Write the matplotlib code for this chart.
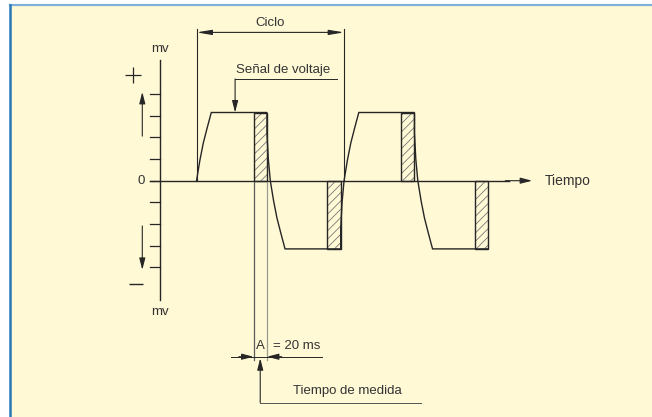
import matplotlib
matplotlib.use("Agg")
import matplotlib.pyplot as plt
from matplotlib.patches import Rectangle
from matplotlib.lines import Line2D

# signal in ms / mv-tick units
PERIOD = 220                 # ms
HALF = PERIOD / 2
LEVEL = 3.15                 # plateau height, in tick units
HATCH_W = 20                 # measuring window (A = 20 ms)
HATCH_ENDS = [159.5, 269.5, 379.5, 489.5]   # end of each measuring window
# edge shape after each window end (fraction of plateau, for a falling edge)
EDGE_DT = [0, 2, 5, 10, 15, 21, 27]
EDGE_FRAC = [0.70, 0.32, 0.0, -0.30, -0.55, -0.78, -1.0]
MV_TICKS = [-4, -3, -2, -1, 0, 1, 2, 3, 4]

INK = "#262626"
TXT = "#333333"
CREAM = "#fff9d6"

plt.rcParams.update({"font.family": ["Liberation Sans", "DejaVu Sans"], "font.size": 9.5,
                     "hatch.linewidth": 0.6, "hatch.color": "#777777"})

fig = plt.figure(figsize=(6.52, 4.17), dpi=100)
fig.patch.set_facecolor("white")
fig.add_artist(Rectangle((9.5 / 652, 0), 1, 1 - 4.5 / 417, transform=fig.transFigure,
                         facecolor=CREAM, edgecolor="none", zorder=0))
fig.add_artist(Line2D([9.5 / 652, 1], [1 - 4.5 / 417] * 2, transform=fig.transFigure,
                      color="#7fb0d8", lw=1.6))
fig.add_artist(Line2D([9.5 / 652] * 2, [0, 1 - 4.5 / 417], transform=fig.transFigure,
                      color="#2a78b8", lw=1.8))

ax = fig.add_axes([0, 0, 1, 1])
ax.set_facecolor("none")
ax.axis("off")
PX_MS = 0.6705   # px per ms
PX_TK = 21.65    # px per tick
ax.set_xlim(-160 / PX_MS, (652 - 160) / PX_MS)
ax.set_ylim((180.7 - 417) / PX_TK, 180.7 / PX_TK)

# ---- build signal polyline
zero_off = EDGE_DT[EDGE_FRAC.index(0.0)]
first_end = HATCH_ENDS[0] - HALF
xs, ys = [], []
for dt, fr in zip(EDGE_DT[2:], EDGE_FRAC[2:]):
    xs.append(first_end + dt)
    ys.append(-LEVEL * fr)
for i, he in enumerate(HATCH_ENDS):
    sign = 1 if i % 2 == 0 else -1
    xs.append(he)
    ys.append(sign * LEVEL)
    if i < len(HATCH_ENDS) - 1:
        for dt, fr in zip(EDGE_DT, EDGE_FRAC):
            xs.append(he + dt)
            ys.append(sign * LEVEL * fr)
ax.plot(xs, ys, color=INK, lw=1.0, solid_joinstyle="miter", zorder=3)

# measuring windows
for i, he in enumerate(HATCH_ENDS):
    sign = 1 if i % 2 == 0 else -1
    y0 = 0 if sign > 0 else -LEVEL
    ax.add_patch(Rectangle((he - HATCH_W, y0), HATCH_W, LEVEL, facecolor="none",
                           edgecolor="#777777", hatch="////", lw=0, zorder=2))
    ax.add_patch(Rectangle((he - HATCH_W, y0), HATCH_W, LEVEL, facecolor="none",
                           edgecolor=INK, lw=1.0, zorder=3))

# ---- y axis (mv)
y_top, y_bot = 5.57, -5.51
ax.plot([0, 0], [y_bot, y_top], color=INK, lw=1.0)
tick_len = 10 / PX_MS
for t in MV_TICKS:
    ax.plot([-tick_len, 0], [t, t], color=INK, lw=0.9)
ax.text(0, 6.1, "mv", ha="center", va="center", color=TXT)
ax.text(0, -6.06, "mv", ha="center", va="center", color=TXT)
ax.text(-28.8, 0, "0", ha="center", va="center", color=TXT)
ax.plot([-39.8], [4.88], marker="+", ms=11, mew=0.9, color=INK)
ax.plot([-35.8], [-4.77], marker="_", ms=10, mew=1.0, color=INK)
arr = dict(arrowstyle="-|>,head_length=0.7,head_width=0.18", color=INK, lw=0.8,
           shrinkA=0, shrinkB=0, mutation_scale=10)
ax.annotate("", xy=(-26.4, 4.1), xytext=(-26.4, 2.06), arrowprops=arr)
ax.annotate("", xy=(-26.4, -4.12), xytext=(-26.4, -2.09), arrowprops=arr)

# ---- time axis
ax.plot([-tick_len, 520], [0, 0], color=INK, lw=1.0, zorder=1)
ax.annotate("", xy=(555, 0), xytext=(515, 0), arrowprops=arr)
ax.text(574, 0, "Tiempo", ha="left", va="center", color=TXT, fontsize=10)

# ---- cycle dimension
c0 = first_end + zero_off
c1 = c0 + PERIOD
ax.plot([c0, c0], [0, 7.0], color=INK, lw=0.8)
ax.plot([c1, c1], [0, 7.0], color=INK, lw=0.8)
ax.annotate("", xy=(c0, 6.85), xytext=(c1, 6.85),
            arrowprops=dict(arrowstyle="<|-|>,head_length=0.9,head_width=0.15", color=INK,
                            lw=0.8, shrinkA=0, shrinkB=0, mutation_scale=10))
ax.text((c0 + c1) / 2, 7.28, "Ciclo", ha="center", va="center", color=TXT)

# ---- signal label
ax.plot([112, 264], [4.70, 4.70], color=INK, lw=0.7)
ax.annotate("", xy=(112, LEVEL), xytext=(112, 4.70), arrowprops=arr)
ax.text(113, 5.11, "Señal de voltaje", ha="left", va="center", color=TXT)

# ---- measuring time A
m0 = HATCH_ENDS[0] - HATCH_W
m1 = HATCH_ENDS[0]
ax.plot([m0, m0], [0, -8.3], color="#5a5a5a", lw=0.9)
ax.plot([m1, m1], [0, -8.3], color="#9a9a90", lw=0.9)
ax.plot([106, 241], [-8.13, -8.13], color=INK, lw=0.7)
ax.annotate("", xy=(m0, -8.13), xytext=(m0 - 22, -8.13), arrowprops=arr)
ax.annotate("", xy=(m1, -8.13), xytext=(m1 + 22, -8.13), arrowprops=arr)
ax.text((m0 + m1) / 2, -7.62, "A", ha="center", va="center", color=TXT)
ax.text(168, -7.62, "= 20 ms", ha="left", va="center", color=TXT)
mid = (m0 + m1) / 2
ax.plot([mid, 389], [-10.25, -10.25], color="#555555", lw=0.7)
ax.annotate("", xy=(mid, -8.2), xytext=(mid, -10.25), arrowprops=arr)
ax.text(197.7, -9.7, "Tiempo de medida", ha="left", va="center", color=TXT)

fig.savefig("out.png", dpi=100, facecolor="white")
